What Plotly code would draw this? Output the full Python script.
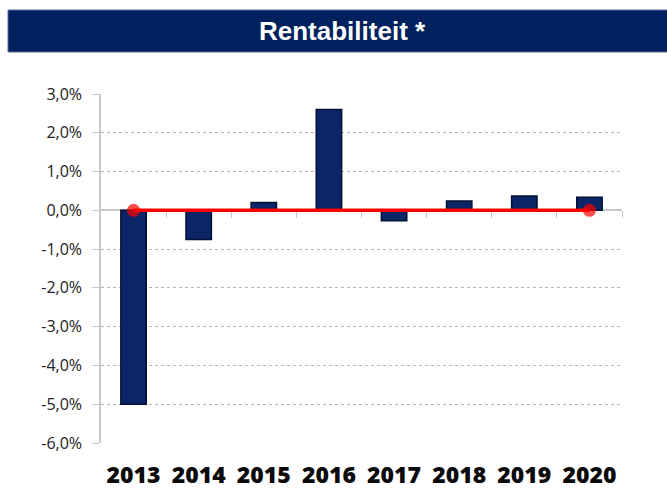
import plotly.graph_objects as go

years = ["2013", "2014", "2015", "2016", "2017", "2018", "2019", "2020"]
rentabiliteit = [-5.0, -0.75, 0.2, 2.6, -0.27, 0.24, 0.37, 0.34]
norm_line = [0, 0, 0, 0, 0, 0, 0, 0]
marker_sizes = [13, 0, 0, 0, 0, 0, 0, 13]
y_tickvals = [3, 2, 1, 0, -1, -2, -3, -4, -5, -6]
y_ticktext = ["3,0%", "2,0%", "1,0%", "0,0%", "-1,0%", "-2,0%", "-3,0%", "-4,0%", "-5,0%", "-6,0%"]
title_text = "Rentabiliteit *"

fig = go.Figure()
fig.add_trace(go.Bar(
    x=years, y=rentabiliteit, width=0.39,
    marker=dict(color="#0c2566", line=dict(color="#021034", width=1.5)),
    showlegend=False,
))
fig.add_trace(go.Scatter(
    x=years, y=norm_line, mode="lines+markers",
    line=dict(color="#ff0000", width=3.5),
    marker=dict(color="#ff0000", size=marker_sizes, line=dict(width=0)),
    showlegend=False,
))
# invisible trace on the zero-crossing x axis
fig.add_trace(go.Scatter(x=years, y=norm_line, xaxis="x2", mode="none",
                         showlegend=False, hoverinfo="skip"))

fig.update_layout(
    width=667, height=490,
    margin=dict(l=101, r=45, t=94, b=47),
    paper_bgcolor="white", plot_bgcolor="white",
    xaxis=dict(
        range=[-0.5, 7.5], showgrid=False, showline=False, zeroline=False,
        automargin=False,
        ticks="outside", ticklen=0, ticklabelstandoff=11,
        tickfont=dict(family="Open Sans", size=23, color="#0a0a0a", weight=800),
    ),
    xaxis2=dict(
        overlaying="x", anchor="free", position=6/9, layer="below traces",
        automargin=False,
        range=[-0.5, 7.5], showline=True, linecolor="#c8c8c8", linewidth=1.5,
        tickmode="array", tickvals=[0.5, 1.5, 2.5, 3.5, 4.5, 5.5, 6.5, 7.5],
        ticktext=[""] * 8, ticks="outside", ticklen=7, tickcolor="#c8c8c8",
        showgrid=False, zeroline=False,
    ),
    yaxis=dict(
        range=[-6, 3], tickmode="array", tickvals=y_tickvals, ticktext=y_ticktext,
        automargin=False, layer="below traces",
        showgrid=True, gridcolor="#b4b4b4", griddash="dot", gridwidth=1,
        zeroline=False, showline=True, linecolor="#c8c8c8", linewidth=1.5,
        ticks="outside", ticklen=7, tickcolor="#c8c8c8", ticklabelstandoff=7,
        tickfont=dict(family="Open Sans", size=16, color="#222222"),
    ),
    shapes=[dict(
        type="rect", xref="paper", yref="paper",
        x0=-93/521, x1=(667-101)/521 + 0.01,
        y0=1 + (94-52)/349, y1=1 + (94-10)/349,
        fillcolor="#00205e", line=dict(color="#5a6f9a", width=1),
    )],
    annotations=[dict(
        text="<b>" + title_text + "</b>", xref="paper", yref="paper",
        x=(342-101)/521, y=1 + (94-31)/349, xanchor="center", yanchor="middle",
        showarrow=False, font=dict(family="Liberation Sans", size=26, color="white"),
    )],
)

fig.write_html("out.html", config={"displayModeBar": False})

# remove the default browser page margin so the figure sits at the window's corner
with open("out.html", "r", encoding="utf-8") as f:
    html = f.read()
html = html.replace("<body>", '<body style="margin:0;padding:0;overflow:hidden">', 1)
html = html.replace("<head>", '<head><style>html,body{margin:0;padding:0;}</style>', 1)
with open("out.html", "w", encoding="utf-8") as f:
    f.write(html)
